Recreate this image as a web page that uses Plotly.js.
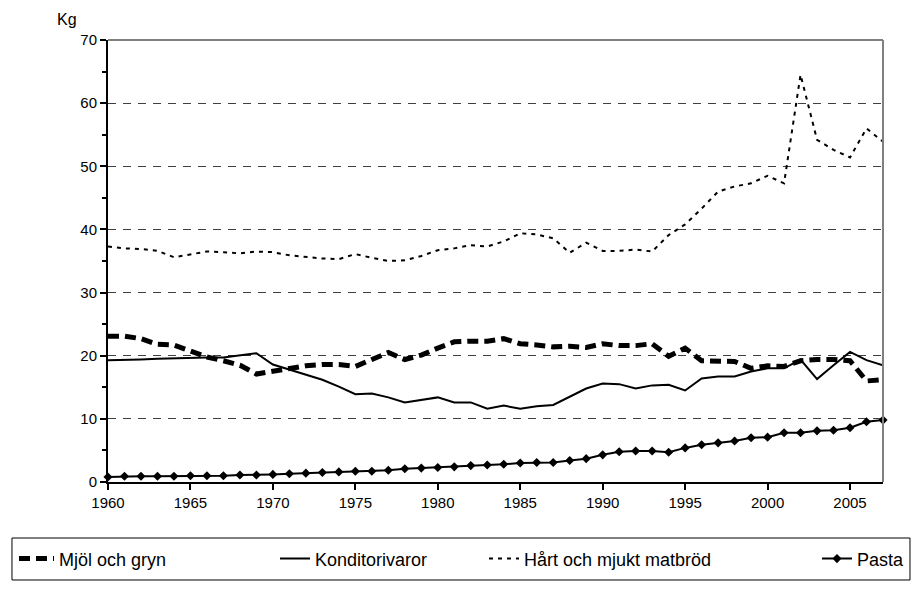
<!DOCTYPE html>
<html>
<head>
<meta charset="utf-8">
<script src="https://cdn.plot.ly/plotly-3.0.1.min.js"></script>
<style>
  body { margin: 0; background: #fff; }
  #chart { width: 912px; height: 596px; }
</style>
</head>
<body>
<div id="chart"></div>
<script>
// yearly consumption, kg per person
var years = [];
for (var y = 1960; y <= 2007; y++) years.push(y);

var mjol = [23.1, 23.1, 22.7, 21.8, 21.7, 20.8, 19.8, 19.2, 18.5, 17.1,
            17.6, 18.0, 18.4, 18.6, 18.6, 18.3, 19.5, 20.5, 19.4, 20.1,
            21.2, 22.2, 22.3, 22.3, 22.7, 21.9, 21.7, 21.4, 21.5, 21.3,
            21.9, 21.6, 21.6, 21.9, 19.9, 21.2, 19.2, 19.1, 19.1, 18.0,
            18.4, 18.3, 19.2, 19.4, 19.4, 19.2, 16.0, 16.2];

var konditori = [19.3, 19.3, 19.4, 19.5, 19.6, 19.7, 19.7, 19.7, 20.1, 20.4,
                 18.6, 17.8, 17.0, 16.2, 15.1, 13.9, 14.0, 13.4, 12.6, 13.0,
                 13.4, 12.6, 12.6, 11.6, 12.1, 11.6, 12.0, 12.2, 13.5, 14.8,
                 15.6, 15.5, 14.8, 15.3, 15.4, 14.5, 16.4, 16.7, 16.7, 17.5,
                 18.0, 18.0, 19.4, 16.3, 18.5, 20.6, 19.3, 18.5];

var matbrod = [37.3, 37.0, 36.9, 36.6, 35.6, 36.0, 36.5, 36.4, 36.2, 36.5,
               36.4, 35.9, 35.6, 35.4, 35.3, 36.1, 35.5, 35.0, 35.1, 35.8,
               36.7, 37.0, 37.5, 37.3, 38.1, 39.4, 39.2, 38.6, 36.3, 37.9,
               36.6, 36.6, 36.8, 36.5, 39.1, 40.8, 43.3, 46.0, 46.8, 47.3,
               48.5, 47.3, 64.5, 54.2, 52.6, 51.4, 56.0, 53.9];

var pasta = [0.8, 0.9, 0.9, 0.9, 0.9, 1.0, 1.0, 1.0, 1.1, 1.1,
             1.2, 1.3, 1.4, 1.5, 1.6, 1.7, 1.7, 1.85, 2.1, 2.2,
             2.3, 2.4, 2.6, 2.7, 2.8, 3.0, 3.1, 3.1, 3.4, 3.7,
             4.3, 4.8, 4.9, 4.9, 4.7, 5.4, 5.9, 6.2, 6.5, 7.0,
             7.1, 7.8, 7.8, 8.1, 8.2, 8.6, 9.55, 9.8];

var names = ["Mjöl och gryn", "Konditorivaror", "Hårt och mjukt matbröd", "Pasta"];

var data = [
  {x: years, y: mjol, name: names[0], mode: "lines", legend: "legend",
   line: {color: "#000", width: 5, dash: "11px,6px"}},
  {x: years, y: konditori, name: names[1], mode: "lines", legend: "legend2",
   line: {color: "#000", width: 2}},
  {x: years, y: matbrod, name: names[2], mode: "lines", legend: "legend3",
   line: {color: "#000", width: 2, dash: "4px,5px"}},
  {x: years, y: pasta, name: names[3], mode: "lines+markers", legend: "legend4",
   line: {color: "#000", width: 2},
   marker: {symbol: "diamond", size: 7, color: "#000"},
   cliponaxis: false}
];

// one legend per series so each entry can sit where it does in the original
function leg(x, w) {
  return {orientation: "h", x: x, xanchor: "left", y: -0.174, yanchor: "middle",
          bgcolor: "rgba(0,0,0,0)", borderwidth: 0, itemwidth: w,
          font: {size: 18}};
}

var layout = {
  width: 912, height: 596,
  margin: {l: 108, r: 29, t: 40, b: 114, autoexpand: false},
  paper_bgcolor: "#fff", plot_bgcolor: "#fff",
  font: {family: "Liberation Sans, Arial, sans-serif", size: 15, color: "#000"},
  showlegend: true,
  xaxis: {
    range: [1960, 2007], tick0: 1960, dtick: 5,
    showgrid: false, zeroline: false,
    showline: true, linecolor: "#000", linewidth: 2,
    ticks: "outside", ticklen: 6, tickwidth: 2, tickcolor: "#000"
  },
  yaxis: {
    range: [0, 70], dtick: 10,
    showgrid: true, gridcolor: "#404040", gridwidth: 1, griddash: "8px,7px",
    zeroline: false,
    showline: true, linecolor: "#000", linewidth: 2,
    ticks: "outside", ticklen: 6, tickwidth: 2, tickcolor: "#000",
    minor: {dtick: 5, ticks: "outside", ticklen: 4, tickwidth: 2, tickcolor: "#000", showgrid: false}
  },
  legend: leg(-0.1213, 35),
  legend2: leg(0.2155, 30),
  legend3: leg(0.4852, 30),
  legend4: leg(0.9148, 30),
  shapes: [
    // grey frame on top and right
    {type: "line", xref: "paper", yref: "paper", x0: 0, x1: 1, y0: 1, y1: 1,
     line: {color: "#808080", width: 2}},
    {type: "line", xref: "paper", yref: "paper", x0: 1, x1: 1, y0: 0, y1: 1,
     line: {color: "#808080", width: 2}},
    // legend box
    {type: "rect", xref: "paper", yref: "paper", x0: -0.1239, x1: 1.0348, y0: -0.2217, y1: -0.1267,
     line: {color: "#000", width: 1}}
  ],
  annotations: [
    {text: "Kg", xref: "paper", yref: "paper", x: -0.053, y: 1.047,
     xanchor: "center", yanchor: "middle", showarrow: false, font: {size: 16}}
  ]
};

Plotly.newPlot("chart", data, layout, {displayModeBar: false});
</script>
</body>
</html>
